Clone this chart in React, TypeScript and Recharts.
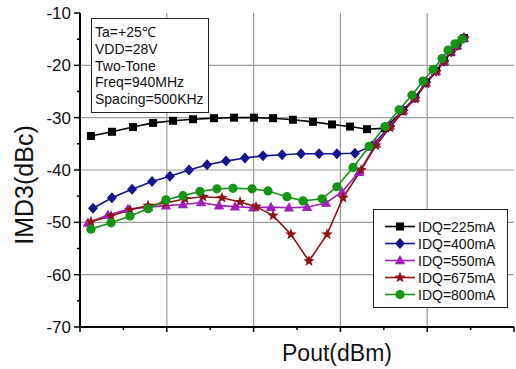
import React from 'react';
import { LineChart, Line, XAxis, YAxis, CartesianGrid } from 'recharts';

// Pout (dBm), IMD3 (dBc) pairs
const idq225: [number, number][] = [
  [25.63, -33.5], [26.84, -32.7], [28.05, -31.8], [29.21, -31.0], [30.36, -30.6], [31.51, -30.3],
  [32.72, -30.1], [33.87, -30.0], [35.02, -30.0], [36.12, -30.1], [37.27, -30.4], [38.42, -30.8],
  [39.52, -31.3], [40.55, -31.7], [41.53, -32.2], [42.57, -32.0], [43.61, -28.6], [44.3, -26.2],
  [44.93, -23.3], [45.51, -21.1], [45.97, -19.2], [46.37, -17.4], [46.72, -16.2], [47.12, -14.8],
];
const idq400: [number, number][] = [
  [25.75, -47.3], [26.84, -45.3], [28.0, -43.7], [29.15, -42.2], [30.18, -41.2], [31.28, -40.0],
  [32.32, -39.0], [33.41, -38.3], [34.5, -37.7], [35.54, -37.3], [36.64, -37.1], [37.73, -36.9],
  [38.77, -36.9], [39.8, -36.9], [40.84, -36.8], [41.82, -35.4], [42.86, -31.6], [43.61, -28.6],
  [44.3, -26.2], [44.93, -23.3], [45.51, -21.1], [45.97, -19.2], [46.37, -17.4], [46.72, -16.2],
  [47.12, -14.8],
];
const idq550: [number, number][] = [
  [25.46, -50.1], [26.61, -48.6], [27.76, -47.5], [28.92, -47.1], [29.95, -46.8], [30.93, -46.6],
  [31.97, -46.2], [33.01, -46.8], [33.93, -47.0], [34.97, -47.2], [36.0, -47.1], [37.04, -47.2],
  [38.08, -47.1], [39.17, -46.3], [40.09, -44.2], [41.07, -40.4], [42.05, -35.0], [42.86, -31.6],
  [43.61, -28.6], [44.3, -26.2], [44.93, -23.3], [45.51, -21.1], [45.97, -19.2], [46.37, -17.4],
  [46.72, -16.2], [47.12, -14.8],
];
const idq675: [number, number][] = [
  [25.63, -49.9], [26.79, -48.8], [27.88, -47.6], [28.92, -46.8], [29.95, -46.3], [31.05, -45.5],
  [32.09, -45.1], [33.18, -45.3], [34.22, -46.1], [35.14, -47.0], [36.12, -48.7], [37.15, -52.3],
  [38.19, -57.4], [39.23, -52.3], [40.15, -45.3], [41.19, -40.0], [42.05, -35.3], [42.86, -31.9],
  [43.61, -28.8], [44.3, -26.4], [44.93, -23.5], [45.51, -21.2], [45.97, -19.3], [46.37, -17.5],
  [46.72, -16.2], [47.12, -14.8],
];
const idq800: [number, number][] = [
  [25.63, -51.3], [26.79, -50.1], [27.88, -48.8], [28.92, -47.4], [29.95, -45.7], [30.93, -44.9],
  [31.91, -44.1], [32.89, -43.6], [33.81, -43.5], [34.91, -43.6], [35.83, -44.0], [36.92, -45.1],
  [37.85, -45.9], [38.94, -45.5], [39.8, -43.2], [40.73, -39.5], [41.65, -35.5], [42.57, -31.7],
  [43.38, -28.5], [44.12, -25.7], [44.76, -23.0], [45.33, -20.8], [45.85, -18.7], [46.2, -17.1],
  [46.6, -15.9], [47.0, -15.0],
];

const names = ['IDQ=225mA', 'IDQ=400mA', 'IDQ=550mA', 'IDQ=675mA', 'IDQ=800mA'];
const colors = ['#000000', '#14148f', '#a020b8', '#8c1414', '#169416'];
const shapes = ['square', 'diamond', 'triangle', 'star', 'circle'];
const allSeries = [idq225, idq400, idq550, idq675, idq800];

const xTicks = [25, 27.5, 30, 32.5, 35, 37.5, 40, 42.5, 45, 47.5, 50];
const xGrid = [30, 35, 40, 45];
const yTicks = [-70, -65, -60, -55, -50, -45, -40, -35, -30, -25, -20, -15, -10];
const yGrid = [-60, -50, -40, -30, -20];
const notes = ['Ta=+25℃', 'VDD=28V', 'Two-Tone', 'Freq=940MHz', 'Spacing=500KHz'];

const FONT = '"Liberation Sans", Arial, sans-serif';

function Marker({ shape, cx, cy, color }: { shape: string; cx: number; cy: number; color: string }) {
  if (shape === 'square') return <rect x={cx - 4} y={cy - 4} width={8} height={8} fill={color} />;
  if (shape === 'diamond')
    return <polygon points={`${cx},${cy - 5.5} ${cx + 5},${cy} ${cx},${cy + 5.5} ${cx - 5},${cy}`} fill={color} />;
  if (shape === 'triangle')
    return <polygon points={`${cx},${cy - 5.5} ${cx + 5.2},${cy + 3.8} ${cx - 5.2},${cy + 3.8}`} fill={color} />;
  if (shape === 'star') {
    const pts: string[] = [];
    for (let i = 0; i < 10; i++) {
      const r = i % 2 === 0 ? 6 : 2.5;
      const a = -Math.PI / 2 + (i * Math.PI) / 5;
      pts.push(`${cx + r * Math.cos(a)},${cy + r * Math.sin(a)}`);
    }
    return <polygon points={pts.join(' ')} fill={color} />;
  }
  return <circle cx={cx} cy={cy} r={4.6} fill={color} />;
}

const isMajorX = (v: number) => v % 5 === 0;
const isMajorY = (v: number) => v % 10 === 0;

function BottomTick(p: any) {
  const len = isMajorX(p.payload.value) ? 5 : 3;
  return <line x1={p.x} x2={p.x} y1={p.y} y2={p.y + len} stroke="#000" strokeWidth={1.5} />;
}
function TopTick(p: any) {
  const len = isMajorX(p.payload.value) ? 5 : 3;
  return <line x1={p.x} x2={p.x} y1={p.y} y2={p.y + len} stroke="#000" strokeWidth={1.5} />;
}
function LeftTick(p: any) {
  const major = isMajorY(p.payload.value);
  return (
    <g>
      <line x1={p.x - (major ? 6 : 3)} x2={p.x} y1={p.y} y2={p.y} stroke="#000" strokeWidth={1.5} />
      {major && (
        <text x={p.x - 9} y={p.y + 6} textAnchor="end" fontSize={17} fontFamily={FONT} fill="#111">
          {p.payload.value}
        </text>
      )}
    </g>
  );
}

export default function App() {
  return (
    <div style={{ position: 'absolute', left: 0, top: 0, width: 516, height: 369, background: '#fff' }}>
      <LineChart width={516} height={369} margin={{ top: 13, right: 2, bottom: 0, left: 0 }}>
        <CartesianGrid
          horizontalValues={yGrid}
          verticalValues={xGrid}
          stroke="#9a9a9a"
          strokeWidth={1.2}
        />
        <XAxis
          xAxisId={0}
          type="number"
          dataKey="x"
          domain={[25, 50]}
          ticks={xTicks}
          interval={0}
          height={42}
          tickSize={0}
          tickMargin={0}
          tickLine={false}
          tick={<BottomTick />}
          axisLine={{ stroke: '#000', strokeWidth: 2 }}
          label={{
            content: (lp: any) => {
              const vb = lp.viewBox || { x: 80, y: 327, width: 434 };
              return (
                <text x={vb.x + vb.width / 2 + 40} y={vb.y + 34} textAnchor="middle" fontSize={23} fontFamily={FONT} fill="#111">
                  Pout(dBm)
                </text>
              );
            },
          }}
        />
        <XAxis
          xAxisId="top"
          orientation="top"
          type="number"
          dataKey="x"
          domain={[25, 50]}
          ticks={xTicks}
          interval={0}
          height={0}
          tickSize={0}
          tickMargin={0}
          tickLine={false}
          tick={<TopTick />}
          axisLine={{ stroke: '#000', strokeWidth: 1.5 }}
        />
        <YAxis
          yAxisId={0}
          type="number"
          domain={[-70, -10]}
          ticks={yTicks}
          interval={0}
          width={80}
          tickSize={0}
          tickMargin={0}
          tickLine={false}
          tick={<LeftTick />}
          axisLine={{ stroke: '#000', strokeWidth: 2 }}
          label={{
            content: () => (
              <text transform="translate(33,185) rotate(-90)" textAnchor="middle" fontSize={25} fontFamily={FONT} fill="#111">
                IMD3(dBc)
              </text>
            ),
          }}
        />
        <YAxis
          yAxisId="right"
          orientation="right"
          type="number"
          domain={[-70, -10]}
          width={0}
          tick={false}
          tickLine={false}
          axisLine={{ stroke: '#000', strokeWidth: 1.5 }}
        />
        {allSeries.map((pts, i) => (
          <Line
            key={names[i]}
            data={pts.map(([x, y]) => ({ x, y }))}
            dataKey="y"
            type="linear"
            stroke={colors[i]}
            strokeWidth={1.6}
            isAnimationActive={false}
            dot={(p: any) => (
              <Marker key={`${names[i]}-${p.index}`} shape={shapes[i]} cx={p.cx} cy={p.cy} color={colors[i]} />
            )}
            activeDot={false}
          />
        ))}
      </LineChart>

      <div
        style={{
          position: 'absolute', left: 91, top: 18, width: 118, height: 95, boxSizing: 'border-box',
          border: '1.5px solid #222', background: '#fff', padding: '5px 0 0 3px',
          fontFamily: FONT, fontSize: 14, lineHeight: '16.8px', color: '#111',
        }}
      >
        {notes.map((n) => (
          <div key={n} style={{ whiteSpace: 'nowrap' }}>{n}</div>
        ))}
      </div>

      <div
        style={{
          position: 'absolute', left: 373, top: 209, width: 135, height: 99, boxSizing: 'border-box',
          border: '1.5px solid #222', background: '#fff', padding: '8px 0 0 10px',
          fontFamily: FONT, fontSize: 14, color: '#111',
        }}
      >
        {names.map((n, i) => (
          <div key={n} style={{ display: 'flex', alignItems: 'center', height: 17, whiteSpace: 'nowrap' }}>
            <svg width={32} height={17} style={{ display: 'block' }}>
              <line x1={1} x2={31} y1={8.5} y2={8.5} stroke={colors[i]} strokeWidth={1.6} />
              <Marker shape={shapes[i]} cx={16} cy={8.5} color={colors[i]} />
            </svg>
            <span style={{ marginLeft: 2 }}>{n}</span>
          </div>
        ))}
      </div>
    </div>
  );
}
